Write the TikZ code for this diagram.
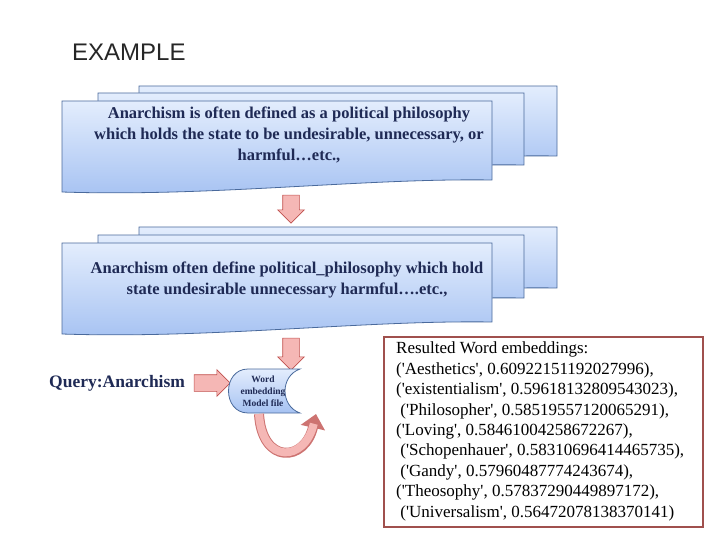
\documentclass[tikz,border=0pt]{standalone}
\usepackage{fontspec}
\setmainfont{Liberation Serif}
\setsansfont{Liberation Sans}
\newfontfamily\plainserif{Liberation Serif}[Ligatures=TeXOff]
\usetikzlibrary{shapes.arrows,arrows.meta}
\definecolor{navy}{HTML}{1F2A55}
\definecolor{boxtop}{HTML}{E3EDFD}
\definecolor{boxbot}{HTML}{A6C2F2}
\definecolor{boxline}{HTML}{4A6A9C}
\definecolor{arrfill}{HTML}{F5B7B5}
\definecolor{arrline}{HTML}{C0504D}
\definecolor{resline}{HTML}{A0504D}
\newcommand\docshape[4]{%
  \shade[top color=boxtop,bottom color=boxbot,draw=boxline,line width=0.8pt]
  (#1,#2) -- (#3,#2) -- (#3,#4-12) .. controls ({#3-0.3*(#3-#1)},#4-14) and ({#1+0.35*(#3-#1)},#4+5) .. (#1,#4) -- cycle;}
\tikzset{
  boxtext/.style={text=navy,font=\fontsize{16.5}{21}\selectfont\bfseries,align=center},
  blockarrow/.style={single arrow,draw=arrline,fill=arrfill,line width=0.6pt,minimum height=#1,minimum width=0pt,single arrow head extend=5pt,inner sep=8pt}
}
\begin{document}
\begin{tikzpicture}[x=1pt,y=-1pt]
\useasboundingbox (0,0) rectangle (720,540);
\node[anchor=west,font=\sffamily\fontsize{24}{28}\selectfont,text=black!85,inner sep=0pt] (title) at (72,52) {EXAMPLE};
% stack 1
\docshape{139}{86}{557}{168}
\docshape{98}{93}{524}{177}
\docshape{62}{101}{492}{192}
\node[boxtext] (t1) at (289,135) {Anarchism is often defined as a political philosophy\\which holds the state to be undesirable, unnecessary, or\\harmful\ldots etc.,};
% stack 2
\docshape{139}{227}{557}{300}
\docshape{98}{235}{524}{310}
\docshape{62}{243}{492}{334}
\node[boxtext] (t2) at (287,280) {Anarchism often define political\_philosophy which hold\\state undesirable unnecessary harmful\ldots.etc.,};
% arrows down
\node[blockarrow=28pt,rotate=-90] (ar1) at (291,205) {};
\node[blockarrow=32pt,rotate=-90] (ar2) at (291,350) {};
% query
\node[text=navy,font=\fontsize{17.5}{20}\selectfont\bfseries,anchor=west,inner sep=0pt] (q) at (49,383) {Query:Anarchism};
\node[blockarrow=36pt] (ar3) at (208,383) {};
% cylinder
\shade[top color=boxtop,bottom color=boxbot,draw=boxline,line width=0.8pt]
 (248,369) -- (300,369) .. controls (280,376) and (280,406) .. (300,413) -- (248,413) .. controls (222,413) and (222,369) .. (248,369) -- cycle;
\node[text=navy,font=\fontsize{9.5}{12}\selectfont\bfseries,align=center] (cyl) at (263,391) {Word\\embedding\\Model file};
% curved arrow
\draw[arrline!80,line width=10pt,-{Triangle[length=14pt,width=24pt]}] (259,414) .. controls (262,465) and (305,462) .. (316,414);
\draw[arrfill,line width=8pt,shorten >=10pt] (259,414) .. controls (262,465) and (305,462) .. (316,414);
% result box
\draw[resline,line width=1.2pt,fill=white] (384,337) rectangle (703,527);
\node[anchor=north west,align=left,font=\plainserif\fontsize{17}{20.4}\selectfont,inner sep=0pt] (res) at (396,342) {%
Resulted Word embeddings:\\
('Aesthetics', 0.60922151192027996),\\
('existentialism', 0.59618132809543023),\\
\ ('Philosopher', 0.58519557120065291),\\
('Loving', 0.58461004258672267),\\
\ ('Schopenhauer', 0.58310696414465735),\\
\ ('Gandy', 0.57960487774243674),\\
('Theosophy', 0.57837290449897172),\\
\ ('Universalism', 0.56472078138370141)};
\end{tikzpicture}
\end{document}
